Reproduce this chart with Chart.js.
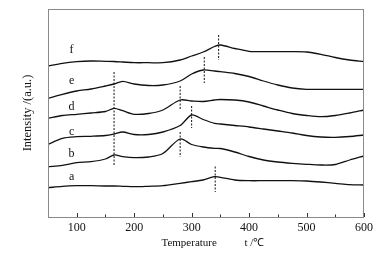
<!DOCTYPE html>
<html>
<head>
<meta charset="utf-8">
<script src="https://cdn.jsdelivr.net/npm/chart.js@4.4.0/dist/chart.umd.min.js"></script>
<style>
  html, body { margin: 0; padding: 0; background: #fff; }
  #box { width: 382px; height: 254px; }
</style>
</head>
<body>
<div id="box"><canvas id="grafico"></canvas></div>
<script>
// Temperaturas (eixo x) e curvas a-f (intensidade, unidades arbitrárias)
var temperaturas = [50, 75, 100, 125, 150, 165, 180, 200, 225, 250, 280, 300, 320, 340, 350, 375, 400, 425, 450, 475, 500, 525, 550, 575, 600]
var curva_a = [29.3, 30.7, 31.3, 31.3, 31, 31, 30.7, 30.3, 30.7, 31.3, 33.7, 35.3, 37, 40.3, 39.7, 37, 36.3, 36.3, 36.3, 36.3, 36, 35, 33.7, 32.3, 32]
var curva_b = [50.3, 51.7, 54.3, 55.3, 58, 62, 60.3, 59.3, 60, 63.5, 78, 72.5, 70, 68.7, 68.5, 65, 60.5, 57, 55, 53.7, 52.7, 52, 52.5, 57, 61]
var curva_c = [72.7, 78.7, 80.3, 80.7, 81.5, 83, 85, 82.5, 82.5, 85, 91.5, 102, 97.5, 93.7, 93, 91.5, 90, 88, 86, 84, 81.5, 80, 79.7, 80.5, 82]
var curva_d = [98.7, 101.5, 102.7, 104, 105.5, 108.7, 106.3, 102.7, 103.5, 107, 117, 116, 115.5, 117, 117.5, 117, 115, 111, 107, 103.5, 101.5, 100.3, 101.5, 104, 107]
var curva_e = [118.7, 122.7, 126, 128, 131, 133, 135.7, 133, 131.5, 132, 136, 143, 147, 146, 145.3, 143.5, 140.5, 136, 132, 129, 127.7, 127.7, 127.7, 127.7, 127.7]
var curva_f = [151, 153.7, 155.3, 156, 155.7, 155.5, 155, 154.3, 154.3, 154.3, 157, 161, 165, 170.5, 172, 168.5, 165.7, 165.3, 165.3, 165.3, 165, 162.7, 159.5, 157, 155.3]

// Linhas tracejadas dos picos
var picos_temp = [165, 280, 280, 300, 322, 347, 341]
var picos_topo = [145, 131, 85, 111, 160, 182, 50.5]
var picos_base = [52, 107, 60, 89, 134, 157, 25]

// Rótulos das curvas
var nomes_curvas = ['a', 'b', 'c', 'd', 'e', 'f']
var rotulo_temp = 91
var rotulo_y = [40, 63, 85, 110, 136, 167]

var ticks_x = [100, 200, 300, 400, 500, 600]
var ticks_menores = [150, 250, 350, 450, 550]

var curvas = [curva_a, curva_b, curva_c, curva_d, curva_e, curva_f]
var datasets = []

for (var i = 0; i < curvas.length; i++) {
    var pontos = []
    for (var j = 0; j < temperaturas.length; j++) {
        pontos.push({ x: temperaturas[j], y: curvas[i][j] })
    }
    datasets.push({
        data: pontos,
        borderColor: '#111',
        borderWidth: 1.3,
        pointRadius: 0,
        tension: 0.3
    })
}

for (var k = 0; k < picos_temp.length; k++) {
    datasets.push({
        data: [{ x: picos_temp[k], y: picos_topo[k] }, { x: picos_temp[k], y: picos_base[k] }],
        borderColor: '#111',
        borderWidth: 1,
        borderDash: [2, 1.5],
        pointRadius: 0
    })
}

// Moldura, ticks internos e letras das curvas
const extras = {
    id: 'extras',
    afterDraw(chart) {
        const ctx = chart.ctx
        const area = chart.chartArea
        const sx = chart.scales.x
        const sy = chart.scales.y
        ctx.save()
        ctx.strokeStyle = '#8a8a8a'
        ctx.lineWidth = 1
        ctx.strokeRect(area.left + 0.5, area.top + 0.5, area.right - area.left - 1, area.bottom - area.top)
        ctx.strokeStyle = '#333'
        ctx.beginPath()
        for (var i = 0; i < ticks_x.length; i++) {
            var px = Math.round(sx.getPixelForValue(ticks_x[i])) + 0.5
            ctx.moveTo(px, area.bottom)
            ctx.lineTo(px, area.bottom - 4)
        }
        for (var i = 0; i < ticks_menores.length; i++) {
            var px = Math.round(sx.getPixelForValue(ticks_menores[i])) + 0.5
            ctx.moveTo(px, area.bottom)
            ctx.lineTo(px, area.bottom - 2.5)
        }
        ctx.stroke()
        ctx.fillStyle = '#111'
        ctx.font = '12px "Liberation Serif", serif'
        ctx.textAlign = 'center'
        ctx.textBaseline = 'middle'
        for (var i = 0; i < nomes_curvas.length; i++) {
            ctx.fillText(nomes_curvas[i], sx.getPixelForValue(rotulo_temp), sy.getPixelForValue(rotulo_y[i]))
        }
        ctx.restore()
    }
}

const grafico = new Chart(document.getElementById('grafico').getContext('2d'), {
    type: 'line',
    data: { datasets: datasets },
    options: {
        responsive: true,
        maintainAspectRatio: false,
        animation: false,
        layout: { padding: { top: 9, right: 18, left: 20, bottom: 0 } },
        plugins: { legend: { display: false }, tooltip: { enabled: false } },
        scales: {
            x: {
                type: 'linear',
                min: 50,
                max: 600,
                afterBuildTicks: (scale) => { scale.ticks = ticks_x.map(v => ({ value: v })) },
                afterFit: (scale) => { scale.height = 37 },
                grid: { display: false, drawTicks: false },
                border: { display: false },
                ticks: { color: '#111', padding: 4, maxRotation: 0, font: { family: '"Liberation Serif", serif', size: 12 } },
                title: {
                    display: true,
                    text: '\u00a0\u00a0\u00a0\u00a0\u00a0Temperature\u00a0\u00a0\u00a0\u00a0\u00a0\u00a0\u00a0\u00a0\u00a0\u00a0t /℃',
                    color: '#111',
                    padding: { top: 1, bottom: 4 },
                    font: { family: '"Liberation Serif", serif', size: 11 }
                }
            },
            y: {
                min: 0,
                max: 208,
                afterFit: (scale) => { scale.width = 28 },
                grid: { display: false, drawTicks: false },
                border: { display: false },
                ticks: { display: false },
                title: {
                    display: true,
                    text: 'Intensity /(a.u.)',
                    color: '#111',
                    padding: { top: 0, bottom: 0 },
                    font: { family: '"Liberation Serif", serif', size: 12.5 }
                }
            }
        }
    },
    plugins: [extras]
})
</script>
</body>
</html>
